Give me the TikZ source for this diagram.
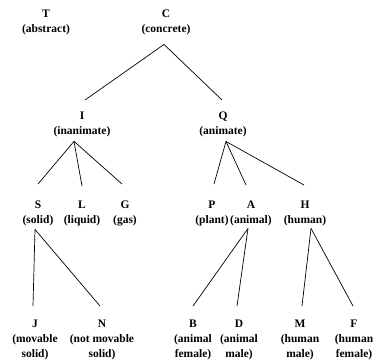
\documentclass[tikz,border=0pt]{standalone}
\usepackage{fontspec}
\setmainfont{Liberation Serif}
\usetikzlibrary{calc}
\begin{document}
\begin{tikzpicture}[x=1pt,y=-1pt,
  concept/.style={anchor=north,align=center,inner sep=0pt,font=\fontsize{11.5}{15}\selectfont\bfseries},
  branch/.style={draw=black,line width=0.7pt}]
\useasboundingbox (0,0) rectangle (382,362);
\node[concept] (T) at (46,10) {T\\(abstract)};
\node[concept] (C) at (166,10) {C\\(concrete)};
\node[concept] (I) at (82,112) {I\\(inanimate)};
\node[concept] (Q) at (223,112) {Q\\(animate)};
\node[concept] (S) at (38,201) {S\\(solid)};
\node[concept] (L) at (82,201) {L\\(liquid)};
\node[concept] (G) at (125,201) {G\\(gas)};
\node[concept] (P) at (212,201) {P\\(plant)};
\node[concept] (A) at (251,201) {A\\(animal)};
\node[concept] (H) at (305,201) {H\\(human)};
\node[concept] (J) at (35,320) {J\\(movable\\solid)};
\node[concept] (N) at (102,320) {N\\(not movable\\solid)};
\node[concept] (B) at (193,320) {B\\(animal\\female)};
\node[concept] (D) at (239,320) {D\\(animal\\male)};
\node[concept] (M) at (300,320) {M\\(human\\male)};
\node[concept] (F) at (354,320) {F\\(human\\female)};
% C
\draw[branch] ($(C.south)+(-2,9)$) -- ($(I.north)+(3,-12)$);
\draw[branch] ($(C.south)+(-2,9)$) -- ($(Q.north)+(-1,-12)$);
% I
\draw[branch] ($(I.south)+(-8,4)$) -- ($(S.north)+(0,-17)$);
\draw[branch] ($(I.south)+(-8,4)$) -- ($(L.north)+(0,-15)$);
\draw[branch] ($(I.south)+(-8,4)$) -- ($(G.north)+(-3,-17)$);
% Q
\draw[branch] ($(Q.south)+(3,4)$) -- ($(P.north)+(2,-17)$);
\draw[branch] ($(Q.south)+(3,4)$) -- ($(A.north)+(-5,-16)$);
\draw[branch] ($(Q.south)+(3,4)$) -- ($(H.north)+(-1,-16)$);
% S
\draw[branch] ($(S.south)+(-3,3)$) -- ($(J.north)+(-2,-14)$);
\draw[branch] ($(S.south)+(-3,3)$) -- ($(N.north)+(-2,-14)$);
% A
\draw[branch] ($(A.south)+(-3,2)$) -- ($(B.north)+(0,-14)$);
\draw[branch] ($(A.south)+(-3,2)$) -- ($(D.north)+(-2,-14)$);
% H
\draw[branch] ($(H.south)+(6,2)$) -- ($(M.north)+(2,-14)$);
\draw[branch] ($(H.south)+(6,2)$) -- ($(F.north)+(-1,-14)$);
\end{tikzpicture}
\end{document}
